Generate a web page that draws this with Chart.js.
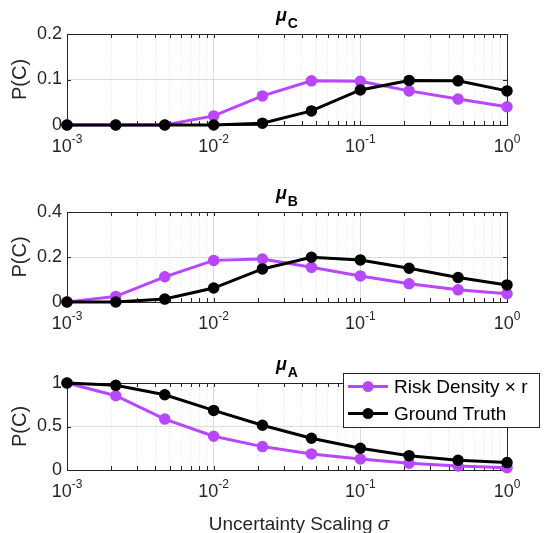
<!DOCTYPE html>
<html><head><meta charset="utf-8">
<script src="https://cdn.jsdelivr.net/npm/chart.js@4/dist/chart.umd.min.js"></script>
<style>
html,body{margin:0;padding:0;background:#fff;}
#wrap{position:relative;width:546px;height:533px;overflow:hidden;}
canvas{position:absolute;left:0;display:block;}
</style></head><body>
<div id="wrap">
<canvas id="cC" width="546" height="170" style="top:0px"></canvas>
<canvas id="cB" width="546" height="170" style="top:170px"></canvas>
<canvas id="cA" width="546" height="193" style="top:340px"></canvas>
</div>
<script>
// ---- data ----
const sigma = [0.001, 0.00215, 0.00464, 0.01, 0.0215, 0.0464, 0.1, 0.215, 0.464, 1];
const riskC  = [0, 0, 0, 0.020, 0.064, 0.097, 0.096, 0.075, 0.057, 0.040];
const truthC = [0, 0, 0, 0, 0.004, 0.031, 0.077, 0.098, 0.097, 0.075];
const riskB  = [0, 0.025, 0.112, 0.185, 0.191, 0.154, 0.116, 0.081, 0.054, 0.037];
const truthB = [0, 0, 0.013, 0.062, 0.147, 0.199, 0.187, 0.150, 0.109, 0.076];
const riskA  = [1.0, 0.854, 0.585, 0.388, 0.269, 0.185, 0.127, 0.077, 0.046, 0.027];
const truthA = [1.0, 0.973, 0.865, 0.685, 0.515, 0.365, 0.250, 0.165, 0.112, 0.085];
const yTicksC = [0, 0.1, 0.2];
const yTicksB = [0, 0.2, 0.4];
const yTicksA = [0, 0.5, 1];
const xTickExponents = [-3, -2, -1, 0];
const seriesLabels = ['Risk Density \u00d7 r', 'Ground Truth'];
const panelTitles = ['C', 'B', 'A'];
const yLabel = 'P(C)';
const xLabelText = 'Uncertainty Scaling ';
const xLabelSymbol = '\u03c3';

const PURPLE = '#B847FF';
const INK = '#262626';
const FONT = '"Liberation Sans", Arial, Helvetica, sans-serif';

const matlabAxes = {
  id: 'matlabAxes',
  beforeDatasetsDraw(chart) {
    const {ctx, chartArea: a, scales: {x, y}} = chart;
    ctx.save();
    ctx.strokeStyle = INK; ctx.lineWidth = 1;
    ctx.beginPath();
    x.ticks.forEach(t => {
      const px = Math.round(x.getPixelForValue(t.value)) + 0.5;
      const len = 4;
      ctx.moveTo(px, a.bottom); ctx.lineTo(px, a.bottom - len);
      ctx.moveTo(px, a.top); ctx.lineTo(px, a.top + len);
    });
    y.ticks.forEach(t => {
      const py = Math.round(y.getPixelForValue(t.value)) + 0.5;
      ctx.moveTo(a.left, py); ctx.lineTo(a.left + 4, py);
      ctx.moveTo(a.right, py); ctx.lineTo(a.right - 4, py);
    });
    ctx.stroke();
    ctx.strokeRect(Math.round(a.left) + 0.5, Math.round(a.top) + 0.5,
                   Math.round(a.right - a.left), Math.round(a.bottom - a.top));
    ctx.restore();
  },
  afterDraw(chart, args, opts) {
    const {ctx, chartArea: a, scales: {x}} = chart;
    ctx.save();
    // x tick labels 10^k
    ctx.fillStyle = INK;
    ctx.textBaseline = 'alphabetic';
    ctx.textAlign = 'left';
    xTickExponents.forEach(e => {
      const px = x.getPixelForValue(Math.pow(10, e));
      ctx.font = '18px ' + FONT;
      const wb = ctx.measureText('10').width;
      ctx.font = '12px ' + FONT;
      const es = (e < 0 ? '-' : '') + Math.abs(e);
      const we = ctx.measureText(es).width;
      const x0 = px - (wb + we) / 2;
      ctx.font = '18px ' + FONT;
      ctx.fillText('10', x0, a.bottom + 27);
      ctx.font = '12px ' + FONT;
      ctx.fillText(es, x0 + wb, a.bottom + 18);
    });
    // x axis label
    if (opts.xLabel) {
      ctx.font = '19px ' + FONT;
      const w1 = ctx.measureText(xLabelText).width;
      ctx.font = 'italic 19px ' + FONT;
      const w2 = ctx.measureText(xLabelSymbol).width;
      const x0 = 299 - (w1 + w2) / 2;
      ctx.font = '19px ' + FONT;
      ctx.fillText(xLabelText, x0, a.bottom + 60);
      ctx.font = 'italic 19px ' + FONT;
      ctx.fillText(xLabelSymbol, x0 + w1, a.bottom + 60);
    }
    // panel title mu_X
    ctx.font = 'italic bold 18px ' + FONT;
    const wm = ctx.measureText('\u03bc').width;
    ctx.font = 'bold 14px ' + FONT;
    const ws = ctx.measureText(opts.title).width;
    const cx = (a.left + a.right) / 2;
    const tx = cx - (wm + ws + 1) / 2;
    ctx.font = 'italic bold 18px ' + FONT;
    ctx.fillStyle = '#000';
    ctx.fillText('\u03bc', tx, a.top - 13);
    ctx.font = 'bold 14px ' + FONT;
    ctx.fillText(opts.title, tx + wm + 1, a.top - 6);
    // legend
    if (opts.legend) {
      const L = opts.legend;
      ctx.fillStyle = '#fff';
      ctx.fillRect(L.x, L.y, L.w, L.h);
      ctx.strokeStyle = INK; ctx.lineWidth = 1;
      ctx.strokeRect(L.x + 0.5, L.y + 0.5, L.w, L.h);
      chart.data.datasets.forEach((ds, i) => {
        const cy = L.y + L.h * (i + 0.5) / chart.data.datasets.length;
        ctx.strokeStyle = ds.borderColor; ctx.lineWidth = ds.borderWidth;
        ctx.beginPath(); ctx.moveTo(L.x + 5, cy); ctx.lineTo(L.x + 45, cy); ctx.stroke();
        ctx.fillStyle = ds.pointBackgroundColor;
        ctx.beginPath(); ctx.arc(L.x + 25, cy, ds.pointRadius + 0.5, 0, Math.PI * 2); ctx.fill();
        ctx.fillStyle = '#000';
        ctx.font = '19px ' + FONT;
        ctx.textBaseline = 'middle';
        ctx.fillText(ds.label, L.x + 51, cy + 1);
        ctx.textBaseline = 'alphabetic';
      });
    }
    ctx.restore();
  }
};

function makeXTicks() {
  const t = [];
  for (let k = 0; k < xTickExponents.length; k++) {
    const e = xTickExponents[k];
    const b = Math.pow(10, e);
    if (e === 0) { t.push({value: 1, major: true}); break; }
    for (let m = 1; m <= 9; m++) t.push({value: m * b, major: m === 1});
  }
  return t;
}

function makeChart(id, risk, truth, yTicks, title, geom) {
  const mk = (arr) => sigma.map((s, i) => ({x: s, y: arr[i]}));
  return new Chart(document.getElementById(id), {
    type: 'line',
    data: {
      datasets: [
        {label: seriesLabels[0], data: mk(risk), borderColor: PURPLE, backgroundColor: PURPLE,
         pointBackgroundColor: PURPLE, pointBorderColor: PURPLE, borderWidth: 3,
         pointRadius: 5, pointBorderWidth: 1.5, order: 1, clip: false, tension: 0},
        {label: seriesLabels[1], data: mk(truth), borderColor: '#000', backgroundColor: '#000',
         pointBackgroundColor: '#000', pointBorderColor: '#000', borderWidth: 3,
         pointRadius: 5, pointBorderWidth: 1.5, order: 0, clip: false, tension: 0}
      ]
    },
    options: {
      responsive: false, animation: false, devicePixelRatio: 1,
      layout: {padding: {left: 0, right: 39, top: geom.top, bottom: 0}},
      plugins: {
        legend: {display: false}, tooltip: {enabled: false},
        matlabAxes: {title: title, legend: geom.legend || null, xLabel: !!geom.xTitle}
      },
      scales: {
        x: {
          type: 'logarithmic', min: 0.001, max: 1,
          afterBuildTicks: s => { s.ticks = makeXTicks(); },
          afterFit: s => { s.height = geom.xh; },
          ticks: {autoSkip: false, callback: () => '', display: true},
          grid: {color: c => (c.tick && c.tick.major) ? '#dcdcdc' : '#e2e2e2', drawTicks: false, lineWidth: 1},
          border: {display: false, dash: c => (c.tick && c.tick.major) ? [] : [1, 2]}
        },
        y: {
          type: 'linear', min: yTicks[0], max: yTicks[yTicks.length - 1],
          afterBuildTicks: s => { s.ticks = yTicks.map(v => ({value: v})); },
          afterFit: s => { s.width = 67; },
          ticks: {color: INK, font: {size: 18, family: FONT}, padding: 5,
                  callback: v => String(v)},
          grid: {color: '#dcdcdc', drawTicks: false},
          border: {display: false},
          title: {display: true, text: yLabel, color: INK, font: {size: 20, family: FONT},
                  padding: {top: 8, bottom: 0}}
        }
      }
    },
    plugins: [matlabAxes]
  });
}

makeChart('cC', riskC, truthC, yTicksC, panelTitles[0], {top: 34, xh: 45});
makeChart('cB', riskB, truthB, yTicksB, panelTitles[1], {top: 42, xh: 38});
makeChart('cA', riskA, truthA, yTicksA, panelTitles[2],
          {top: 43, xh: 63, xTitle: true, legend: {x: 343, y: 33, w: 196, h: 54}});
</script>
</body></html>
